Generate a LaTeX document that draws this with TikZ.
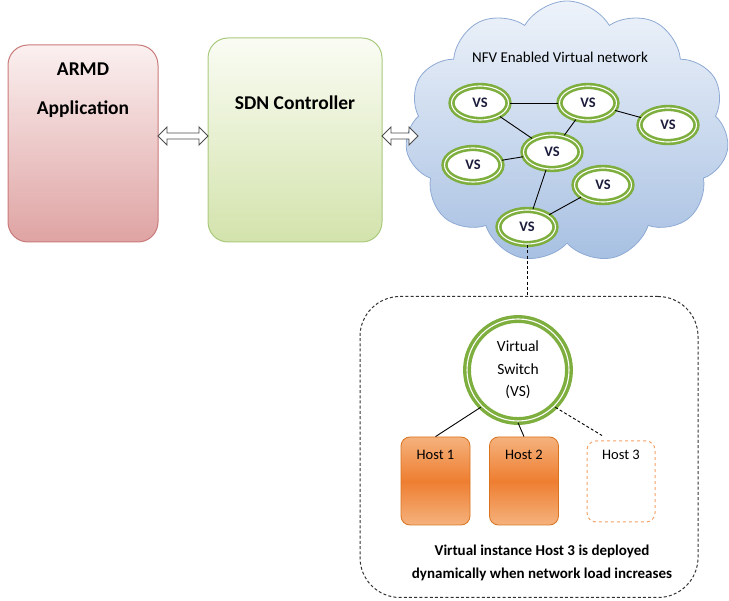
\documentclass[tikz,border=0pt]{standalone}
\usepackage{fontspec}
\setmainfont{Carlito}
\usepackage{xcolor}
\definecolor{armdline}{HTML}{C97A7A}
\definecolor{armdtop}{HTML}{FBF0F0}
\definecolor{armdbot}{HTML}{DFA3A3}
\definecolor{sdnline}{HTML}{A9C97C}
\definecolor{sdntop}{HTML}{FAFCF4}
\definecolor{sdnbot}{HTML}{D3E3AC}
\definecolor{cloudline}{HTML}{8EAAD4}
\definecolor{cloudtop}{HTML}{EEF3FA}
\definecolor{cloudbot}{HTML}{A7C0E2}
\definecolor{vsgreen}{HTML}{7DAE3E}
\definecolor{vstext}{HTML}{1C1C3C}
\definecolor{hostline}{HTML}{D9731F}
\definecolor{hostlight}{HTML}{F5B27D}
\definecolor{hostdark}{HTML}{EE7E31}
\definecolor{hostdash}{HTML}{F3A268}
\usepackage{tikz}
\usetikzlibrary{shapes.symbols, shapes.arrows, shapes.geometric, positioning, calc}

\begin{document}
\begin{tikzpicture}[x=1pt, y=-1pt, font=\fontsize{15}{17}\selectfont,
  mainbox/.style={rounded corners=20pt, line width=1pt},
  boxtitle/.style={font=\fontsize{19.5}{22}\selectfont\bfseries},
  blockarrow/.style={double arrow, draw=black!70, fill=white, line width=0.9pt,
    double arrow head extend=5pt, minimum width=18pt, inner sep=2pt},
  vs/.style={ellipse, draw=vsgreen, double=white, double distance=1.1pt, line width=2.6pt,
    fill=white, minimum width=57pt, minimum height=34pt, inner sep=0pt,
    text=vstext, font=\fontsize{14.5}{16}\selectfont\bfseries},
  host/.style={rounded corners=9pt, minimum width=69pt, minimum height=88pt,
    draw=hostline, line width=0.8pt, top color=hostlight, bottom color=hostlight,
    middle color=hostdark},
  hostlabel/.style={font=\fontsize{14.5}{16}\selectfont},
  link/.style={line width=0.9pt}]
  \useasboundingbox (0,0) rectangle (729,601);

  % left part
  \node[mainbox, draw=armdline, top color=armdtop, bottom color=armdbot,
    minimum width=150pt, minimum height=197pt] (armd) at (83,143.5) {};
  \node[boxtitle] (armdt) at ($(armd.north)+(0,25)$) {ARMD};
  \node[boxtitle] (armda) at ($(armd.north)+(0,65)$) {Application};

  \node[mainbox, draw=sdnline, top color=sdntop, bottom color=sdnbot,
    minimum width=174pt, minimum height=204pt] (sdn) at (295,140) {};
  \node[boxtitle] (sdnt) at ($(sdn.north)+(0,65)$) {SDN Controller};

  % cloud
  \node[cloud, cloud puffs=11, cloud puff arc=120, aspect=1.25, draw=cloudline, line width=0.8pt,
    top color=cloudtop, bottom color=cloudbot, minimum width=324pt, minimum height=262pt,
    inner sep=0pt] (net) at (567,132) {};
  \node (nett) at (560,57) {NFV Enabled Virtual network};

  \node[blockarrow, minimum height=50pt] (arr1) at (183,136) {};
  \node[blockarrow, minimum height=36pt] (arr2) at (400,136) {};

  \node[vs] (vsa) at (480,103) {VS};
  \node[vs] (vsb) at (588,103) {VS};
  \node[vs] (vsc) at (668,125) {VS};
  \node[vs] (vsd) at (552,152) {VS};
  \node[vs] (vse) at (473,165) {VS};
  \node[vs] (vsf) at (603,185) {VS};
  \node[vs] (vsg) at (527,227) {VS};

  \draw[link] (vsa) -- (vsb);
  \draw[link] (vsa) -- (vsd);
  \draw[link] (vsb) -- (vsd);
  \draw[link] (vsb) -- (vsc);
  \draw[link] (vse) -- (vsd);
  \draw[link] (vsd) -- (vsg);
  \draw[link] (vsg) -- (vsf);

  % zoomed switch
  \node[draw=black!80, dash pattern=on 3pt off 2.2pt, rounded corners=40pt, line width=1pt,
    minimum width=338pt, minimum height=301pt] (zoombox) at (529,447) {};
  \draw[dash pattern=on 3pt off 2.2pt, line width=1pt] (vsg.south) -- (vsg.south |- zoombox.north);

  \node[circle, draw=vsgreen, double=white, double distance=1.1pt, line width=3.4pt, fill=white,
    minimum size=102pt, inner sep=0pt] (vsw) at (518,370) {};
  \node[align=center, font=\fontsize{15.5}{22.5}\selectfont] (vswt) at (vsw) {Virtual\\Switch\\(VS)};

  \node[host] (hosta) at (435.5,481) {};
  \node[host] (hostb) at (524,481) {};
  \node[rounded corners=9pt, minimum width=68pt, minimum height=81pt, draw=hostdash,
    dashed, line width=1pt, fill=white] (hostc) at (621,481.5) {};
  \node[hostlabel] at ($(hosta.north)+(0,18)$) {Host 1};
  \node[hostlabel] at ($(hostb.north)+(0,18)$) {Host 2};
  \node[hostlabel] at ($(hostc.north)+(0,14)$) {Host 3};
  \coordinate (hostcin) at ($(hostc.north)!0.55!(hostc.north west)+(0,-5)$);

  \draw[link] (vsw.south west) -- (hosta.north);
  \draw[link] (vsw.south) -- (hostb.north);
  \draw[link, dash pattern=on 3pt off 2.2pt] (vsw.south east) -- (hostcin);

  \node[align=center, font=\fontsize{15}{23}\selectfont\bfseries] (note) at (542,563)
    {Virtual instance Host 3 is deployed\\dynamically when network load increases};
\end{tikzpicture}
\end{document}
